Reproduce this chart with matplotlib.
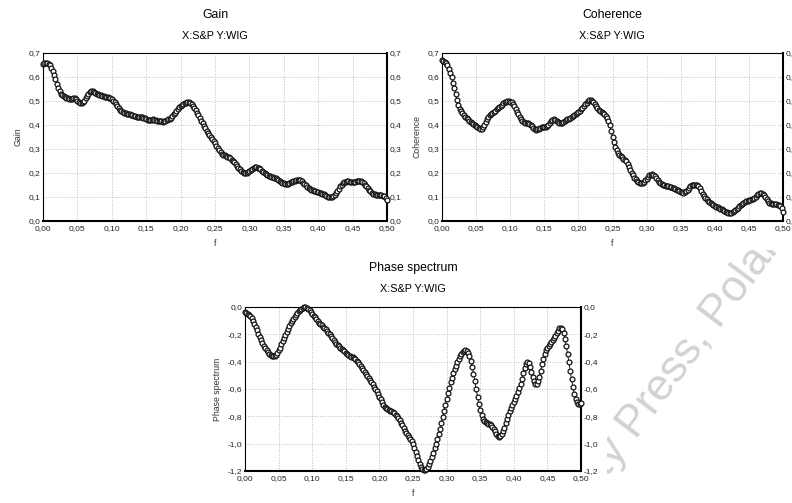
import numpy as np
import matplotlib
matplotlib.use("Agg")
import matplotlib.pyplot as plt
from matplotlib.ticker import FuncFormatter, MultipleLocator
from matplotlib.patches import Rectangle

plt.rcParams['font.family'] = ['Liberation Sans', 'DejaVu Sans']

# ---------------- data ----------------
freq_step = 0.002
n_points = 251
freqs = np.arange(n_points) * freq_step

gain = [
    0.655, 0.658, 0.660, 0.659, 0.655, 0.648, 0.638, 0.625, 0.610, 0.592,
    0.572, 0.555, 0.540, 0.530, 0.524, 0.520, 0.517, 0.514, 0.511, 0.508,
    0.507, 0.510, 0.513, 0.512, 0.507, 0.501, 0.496, 0.492, 0.491, 0.495,
    0.502, 0.511, 0.521, 0.530, 0.538, 0.542, 0.541, 0.537, 0.533, 0.530,
    0.528, 0.526, 0.524, 0.522, 0.520, 0.518, 0.517, 0.516, 0.514, 0.511,
    0.507, 0.501, 0.494, 0.487, 0.479, 0.471, 0.464, 0.458, 0.454, 0.451,
    0.449, 0.447, 0.446, 0.445, 0.443, 0.441, 0.438, 0.436, 0.435, 0.434,
    0.434, 0.434, 0.433, 0.431, 0.428, 0.424, 0.421, 0.419, 0.419, 0.421,
    0.423, 0.422, 0.420, 0.418, 0.417, 0.416, 0.415, 0.414, 0.415, 0.418,
    0.421, 0.424, 0.427, 0.431, 0.437, 0.444, 0.452, 0.460, 0.467, 0.474,
    0.479, 0.484, 0.488, 0.491, 0.493, 0.494, 0.494, 0.492, 0.488, 0.481,
    0.472, 0.462, 0.451, 0.440, 0.429, 0.418, 0.407, 0.396, 0.386, 0.376,
    0.366, 0.357, 0.348, 0.340, 0.332, 0.323, 0.313, 0.303, 0.295, 0.287,
    0.281, 0.277, 0.274, 0.271, 0.268, 0.265, 0.261, 0.256, 0.250, 0.244,
    0.237, 0.229, 0.222, 0.215, 0.209, 0.203, 0.200, 0.199, 0.200, 0.203,
    0.208, 0.213, 0.218, 0.222, 0.224, 0.224, 0.222, 0.219, 0.215, 0.210,
    0.205, 0.200, 0.196, 0.192, 0.189, 0.187, 0.185, 0.183, 0.181, 0.178,
    0.175, 0.171, 0.167, 0.163, 0.160, 0.157, 0.155, 0.155, 0.156, 0.158,
    0.161, 0.164, 0.166, 0.168, 0.170, 0.171, 0.171, 0.169, 0.165, 0.160,
    0.154, 0.148, 0.142, 0.137, 0.133, 0.130, 0.128, 0.126, 0.124, 0.122,
    0.120, 0.118, 0.116, 0.114, 0.111, 0.108, 0.105, 0.102, 0.100, 0.099,
    0.100, 0.104, 0.110, 0.118, 0.126, 0.135, 0.144, 0.152, 0.158, 0.162,
    0.164, 0.165, 0.165, 0.164, 0.164, 0.164, 0.164, 0.164, 0.165, 0.166,
    0.166, 0.165, 0.162, 0.157, 0.151, 0.144, 0.137, 0.130, 0.123, 0.118,
    0.114, 0.111, 0.110, 0.110, 0.110, 0.109, 0.108, 0.106, 0.103, 0.097,
    0.088,
]

coherence = [
    0.670, 0.668, 0.664, 0.658, 0.648, 0.635, 0.618, 0.598, 0.576, 0.553,
    0.530, 0.506, 0.484, 0.468, 0.457, 0.449, 0.442, 0.435, 0.429, 0.423,
    0.418, 0.413, 0.408, 0.404, 0.400, 0.396, 0.391, 0.386, 0.382, 0.383,
    0.391, 0.401, 0.412, 0.423, 0.432, 0.440, 0.446, 0.451, 0.455, 0.460,
    0.465, 0.470, 0.475, 0.480, 0.485, 0.490, 0.494, 0.497, 0.499, 0.499,
    0.497, 0.494, 0.488, 0.479, 0.468, 0.456, 0.445, 0.434, 0.424, 0.416,
    0.411, 0.409, 0.408, 0.408, 0.406, 0.401, 0.395, 0.388, 0.383, 0.381,
    0.382, 0.385, 0.388, 0.390, 0.391, 0.391, 0.392, 0.395, 0.401, 0.409,
    0.416, 0.421, 0.423, 0.422, 0.417, 0.411, 0.407, 0.407, 0.410, 0.414,
    0.417, 0.420, 0.423, 0.427, 0.430, 0.434, 0.438, 0.442, 0.446, 0.450,
    0.455, 0.460, 0.465, 0.471, 0.478, 0.486, 0.493, 0.499, 0.503, 0.504,
    0.501, 0.495, 0.487, 0.478, 0.470, 0.464, 0.458, 0.453, 0.449, 0.444,
    0.437, 0.428, 0.416, 0.398, 0.376, 0.352, 0.329, 0.310, 0.295, 0.284,
    0.277, 0.271, 0.265, 0.260, 0.255, 0.248, 0.238, 0.227, 0.214, 0.202,
    0.191, 0.181, 0.173, 0.166, 0.162, 0.159, 0.158, 0.160, 0.164, 0.170,
    0.177, 0.184, 0.190, 0.193, 0.194, 0.192, 0.188, 0.180, 0.171, 0.163,
    0.157, 0.153, 0.150, 0.148, 0.146, 0.145, 0.144, 0.142, 0.141, 0.139,
    0.137, 0.134, 0.131, 0.128, 0.125, 0.122, 0.119, 0.118, 0.120, 0.125,
    0.131, 0.138, 0.144, 0.148, 0.151, 0.152, 0.152, 0.150, 0.146, 0.136,
    0.123, 0.113, 0.104, 0.096, 0.090, 0.085, 0.080, 0.075, 0.071, 0.067,
    0.063, 0.060, 0.057, 0.055, 0.052, 0.049, 0.046, 0.042, 0.039, 0.036,
    0.034, 0.033, 0.034, 0.037, 0.041, 0.046, 0.051, 0.056, 0.061, 0.066,
    0.071, 0.076, 0.080, 0.082, 0.084, 0.086, 0.088, 0.090, 0.093, 0.097,
    0.102, 0.107, 0.112, 0.116, 0.117, 0.114, 0.107, 0.098, 0.090, 0.083,
    0.077, 0.073, 0.071, 0.070, 0.069, 0.069, 0.068, 0.066, 0.062, 0.053,
    0.037,
]

phase = [
    -0.037, -0.043, -0.050, -0.058, -0.068, -0.082, -0.100, -0.122, -0.146, -0.171,
    -0.196, -0.219, -0.242, -0.263, -0.282, -0.300, -0.316, -0.330, -0.342, -0.352,
    -0.358, -0.360, -0.357, -0.349, -0.336, -0.318, -0.297, -0.274, -0.251, -0.228,
    -0.206, -0.184, -0.162, -0.140, -0.120, -0.102, -0.086, -0.072, -0.058, -0.044,
    -0.031, -0.020, -0.012, -0.006, -0.003, -0.003, -0.007, -0.014, -0.024, -0.036,
    -0.050, -0.063, -0.076, -0.089, -0.102, -0.114, -0.125, -0.135, -0.145, -0.154,
    -0.164, -0.175, -0.187, -0.200, -0.214, -0.228, -0.242, -0.256, -0.268, -0.279,
    -0.288, -0.297, -0.306, -0.315, -0.325, -0.335, -0.344, -0.352, -0.358, -0.363,
    -0.368, -0.374, -0.382, -0.393, -0.406, -0.420, -0.434, -0.448, -0.462, -0.476,
    -0.490, -0.504, -0.519, -0.534, -0.550, -0.566, -0.582, -0.599, -0.617, -0.636,
    -0.656, -0.676, -0.696, -0.714, -0.729, -0.740, -0.748, -0.753, -0.758, -0.763,
    -0.770, -0.778, -0.788, -0.800, -0.814, -0.830, -0.848, -0.867, -0.886, -0.904,
    -0.920, -0.935, -0.950, -0.965, -0.982, -1.003, -1.030, -1.060, -1.092, -1.122,
    -1.148, -1.168, -1.182, -1.190, -1.192, -1.186, -1.172, -1.152, -1.127, -1.098,
    -1.067, -1.035, -1.002, -0.967, -0.930, -0.890, -0.848, -0.804, -0.760, -0.716,
    -0.672, -0.630, -0.590, -0.552, -0.518, -0.486, -0.457, -0.430, -0.405, -0.382,
    -0.362, -0.344, -0.330, -0.320, -0.316, -0.320, -0.334, -0.358, -0.392, -0.436,
    -0.488, -0.545, -0.603, -0.660, -0.712, -0.757, -0.792, -0.817, -0.833, -0.843,
    -0.849, -0.853, -0.858, -0.866, -0.878, -0.893, -0.910, -0.927, -0.941, -0.948,
    -0.945, -0.932, -0.910, -0.882, -0.851, -0.820, -0.790, -0.762, -0.737, -0.714,
    -0.692, -0.670, -0.648, -0.624, -0.596, -0.563, -0.525, -0.485, -0.447, -0.418,
    -0.405, -0.413, -0.440, -0.477, -0.515, -0.545, -0.562, -0.563, -0.545, -0.510,
    -0.466, -0.420, -0.378, -0.344, -0.318, -0.299, -0.284, -0.270, -0.256, -0.242,
    -0.227, -0.211, -0.193, -0.173, -0.156, -0.150, -0.162, -0.190, -0.232, -0.284,
    -0.342, -0.404, -0.468, -0.530, -0.586, -0.634, -0.671, -0.695, -0.707, -0.710,
    -0.700,
]

subtitle = "X:S&P Y:WIG"
panel_titles = ["Gain", "Coherence", "Phase spectrum"]
x_ticks = [0.00, 0.05, 0.10, 0.15, 0.20, 0.25, 0.30, 0.35, 0.40, 0.45, 0.50]

# ---------------- layout ----------------
W, H = 792, 503
fig = plt.figure(figsize=(W / 100, H / 100), dpi=100)
fig.patch.set_facecolor('white')


def fbox(l, t, r, b):
    return [l / W, 1 - b / H, (r - l) / W, (b - t) / H]


# watermark (behind the chart backgrounds)
fig.text(608 / W, 1 - 478 / H, "ty Press, Poland", rotation=53, rotation_mode='anchor',
         ha='left', va='baseline', fontsize=32, color='#d2d2d2', zorder=-3)
# chart image backgrounds covering the watermark
fig.patches.append(Rectangle((0, 1 - 250 / H), 1, 250 / H, transform=fig.transFigure,
                             facecolor='white', edgecolor='none', zorder=-2))
fig.patches.append(Rectangle((200 / W, 0), 407 / W, 253 / H, transform=fig.transFigure,
                             facecolor='white', edgecolor='none', zorder=-2))

comma = lambda nd: FuncFormatter(lambda v, p: f"{v:.{nd}f}".replace('.', ','))


def style(ax, title, ylabel, ymin, ymax, ystep, cx, ty):
    ax.set_xlim(0, 0.5)
    ax.set_ylim(ymin, ymax)
    ax.set_xticks(x_ticks)
    ax.yaxis.set_major_locator(MultipleLocator(ystep))
    ax.xaxis.set_major_formatter(comma(2))
    ax.yaxis.set_major_formatter(comma(1))
    ax.tick_params(axis='both', labelsize=6, length=0, pad=3, colors='#222222')
    ax.tick_params(axis='y', labelright=True, right=False)
    ax.tick_params(axis='y', which='both', pad=2)
    ax.grid(True, color='#bdbdbd', linestyle=':', linewidth=0.7)
    for s in ['left', 'top']:
        ax.spines[s].set_linewidth(0.8)
    for s in ['right', 'bottom']:
        ax.spines[s].set_linewidth(1.5)
    ax.set_ylabel(ylabel, fontsize=6.3, labelpad=4, color='#333333')
    ax.set_xlabel('f', fontsize=6.3, labelpad=5, color='#333333')
    fig.text(cx / W, 1 - ty / H, title, ha='center', va='center', fontsize=8.8)
    fig.text(cx / W, 1 - (ty + 21) / H, subtitle, ha='center', va='center', fontsize=7.8)


def draw(ax, vals):
    ax.plot(freqs, vals, color='black', linewidth=0.6, marker='o', markersize=3.5,
            markerfacecolor='white', markeredgecolor='#111111', markeredgewidth=0.9,
            clip_on=False, zorder=3)


ax1 = fig.add_axes(fbox(43, 53, 387, 221))
draw(ax1, gain)
style(ax1, panel_titles[0], "Gain", 0.0, 0.7, 0.1, 215, 15)

ax2 = fig.add_axes(fbox(442, 53, 783, 221))
draw(ax2, coherence)
style(ax2, panel_titles[1], "Coherence", 0.0, 0.7, 0.1, 612, 15)

ax3 = fig.add_axes(fbox(245, 307, 581, 471))
draw(ax3, phase)
style(ax3, panel_titles[2], "Phase spectrum", -1.2, 0.0, 0.2, 413, 268)

fig.savefig("out.png", dpi=100, facecolor=fig.get_facecolor())
